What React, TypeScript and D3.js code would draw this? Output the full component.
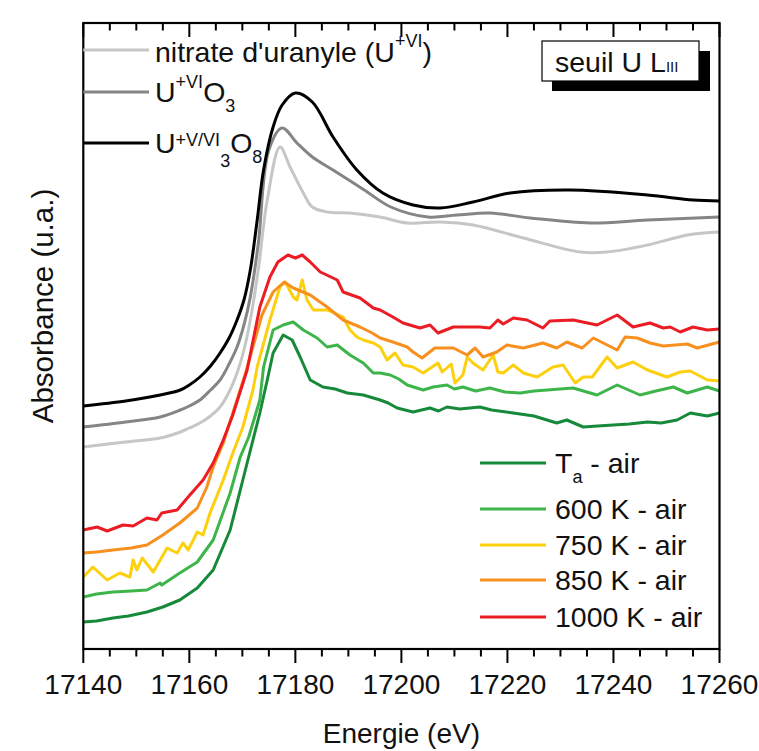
import React from 'react';
import * as d3 from 'd3';

// ---------- data ----------
const xTicks = [17140, 17160, 17180, 17200, 17220, 17240, 17260];
const minorTicks = d3.range(17140, 17261, 5);

const u3o8E = [17140, 17148, 17154.5, 17158.3, 17160, 17162, 17164, 17165.8, 17167.5, 17169, 17170.3, 17171.5, 17172.8, 17174, 17175.8, 17177.5, 17180, 17183.2, 17187.1, 17191.6, 17196.5, 17202.2, 17207.3, 17213.5, 17220.5, 17231.8, 17246.4, 17255, 17260];
const u3o8A = [2.43, 2.48, 2.54, 2.59, 2.64, 2.72, 2.83, 2.96, 3.11, 3.29, 3.49, 3.79, 4.29, 4.79, 5.22, 5.44, 5.56, 5.47, 5.12, 4.79, 4.56, 4.44, 4.41, 4.47, 4.56, 4.59, 4.54, 4.49, 4.48];

const uo3E = [17140, 17148, 17154.5, 17158.3, 17160, 17162, 17164, 17165.8, 17167.5, 17169, 17170.3, 17171.5, 17173, 17175, 17177.5, 17180.3, 17183.2, 17187.1, 17193, 17198, 17205, 17210.5, 17216.7, 17224.3, 17235.6, 17246.4, 17260];
const uo3A = [2.22, 2.27, 2.32, 2.39, 2.43, 2.49, 2.59, 2.69, 2.85, 3.02, 3.24, 3.52, 4.05, 4.99, 5.21, 5.06, 4.92, 4.79, 4.59, 4.42, 4.32, 4.34, 4.36, 4.31, 4.26, 4.29, 4.32];

const nitrateE = [17140, 17148, 17154.5, 17158.3, 17160, 17162, 17164, 17165.8, 17167.5, 17169, 17170.3, 17171.5, 17173, 17174.7, 17177.1, 17179, 17181.5, 17183.2, 17186, 17190.3, 17196, 17201.1, 17207.3, 17213.5, 17223, 17233.7, 17238.8, 17246.4, 17254, 17260];
const nitrateA = [2.02, 2.07, 2.11, 2.17, 2.21, 2.26, 2.33, 2.42, 2.57, 2.76, 2.99, 3.29, 3.79, 4.49, 5.02, 4.82, 4.56, 4.42, 4.37, 4.36, 4.32, 4.26, 4.27, 4.24, 4.11, 3.97, 3.97, 4.04, 4.14, 4.17];

const taE = [17140, 17142.5, 17145.6, 17148.5, 17152, 17155, 17158.2, 17161.5, 17164.5, 17167.7, 17170.9, 17173.3, 17174.7, 17175.8, 17177.7, 17179.4, 17180.9, 17182.8, 17185.2, 17187.5, 17189.8, 17192.8, 17196, 17197.5, 17199.2, 17202.2, 17205.4, 17207, 17208.6, 17211, 17214.8, 17217, 17221.1, 17225, 17229.3, 17231.2, 17234.3, 17237, 17240, 17243, 17246.4, 17249, 17252, 17254.5, 17257.7, 17260];
const taA = [0.27, 0.28, 0.31, 0.33, 0.37, 0.42, 0.49, 0.61, 0.79, 1.19, 1.86, 2.36, 2.69, 2.96, 3.14, 3.09, 2.92, 2.69, 2.62, 2.60, 2.56, 2.54, 2.49, 2.46, 2.41, 2.37, 2.41, 2.38, 2.42, 2.40, 2.42, 2.39, 2.36, 2.33, 2.26, 2.29, 2.22, 2.23, 2.24, 2.25, 2.27, 2.26, 2.29, 2.36, 2.33, 2.36];

const k600E = [17140, 17142.5, 17145.6, 17149, 17152, 17154.5, 17154.8, 17158.2, 17161.5, 17164.5, 17167.7, 17169.6, 17171.2, 17173.3, 17174, 17175.8, 17177.7, 17179.6, 17181.5, 17184.1, 17186, 17187.9, 17190.3, 17192.8, 17194.7, 17196, 17197.9, 17199.5, 17201.1, 17204.1, 17206, 17208.6, 17210, 17211.6, 17214, 17216.7, 17219.5, 17222.4, 17225, 17227.5, 17232.4, 17236.9, 17240.7, 17245, 17248, 17251.3, 17253.9, 17257.7, 17260];
const k600A = [0.52, 0.55, 0.57, 0.58, 0.59, 0.66, 0.64, 0.76, 0.87, 1.09, 1.56, 1.92, 2.12, 2.49, 2.82, 3.19, 3.24, 3.27, 3.19, 3.11, 3.02, 3.04, 2.94, 2.86, 2.76, 2.76, 2.74, 2.70, 2.64, 2.59, 2.62, 2.64, 2.60, 2.62, 2.58, 2.61, 2.57, 2.56, 2.58, 2.59, 2.61, 2.54, 2.64, 2.54, 2.58, 2.62, 2.56, 2.62, 2.58];

const k750E = [17140, 17141.8, 17144.5, 17146.9, 17148.8, 17149.4, 17150.1, 17151.1, 17153.2, 17155.8, 17157.7, 17158.8, 17159.8, 17161.5, 17162.6, 17163.9, 17166.4, 17168.2, 17170.1, 17172, 17172.8, 17175.2, 17177.1, 17178.1, 17179.6, 17180.3, 17181.3, 17182.2, 17183.4, 17186, 17189, 17190.3, 17191.6, 17192.8, 17194.7, 17196, 17197.3, 17198.8, 17200.3, 17202.2, 17204.1, 17206.9, 17207.7, 17209.4, 17210.1, 17211.6, 17212.4, 17213.5, 17215.4, 17217.3, 17218.2, 17219.2, 17221.1, 17223, 17225.6, 17228.6, 17230.5, 17232.8, 17234.3, 17236, 17238.8, 17240.7, 17243.7, 17246.4, 17250.1, 17252.6, 17254.5, 17257.7, 17260];
const k750A = [0.72, 0.82, 0.69, 0.76, 0.72, 0.89, 0.79, 0.91, 0.77, 1.01, 0.96, 1.06, 0.99, 1.17, 1.14, 1.36, 1.69, 1.96, 2.22, 2.59, 2.82, 3.29, 3.62, 3.67, 3.52, 3.49, 3.69, 3.49, 3.39, 3.39, 3.32, 3.19, 3.12, 3.09, 3.06, 3.02, 2.89, 2.96, 2.84, 2.82, 2.76, 2.86, 2.77, 2.85, 2.66, 2.74, 2.92, 2.86, 2.79, 2.94, 2.77, 2.76, 2.84, 2.76, 2.72, 2.82, 2.84, 2.66, 2.72, 2.72, 2.92, 2.81, 2.87, 2.79, 2.72, 2.77, 2.78, 2.69, 2.68];

const k850E = [17140, 17142.5, 17145.6, 17149, 17152, 17155, 17158.2, 17161.5, 17163.3, 17164.5, 17166.4, 17168.2, 17170.5, 17173.7, 17175.8, 17177.9, 17179.6, 17182.8, 17186, 17189, 17192.2, 17194.5, 17196, 17198.4, 17201.1, 17202.2, 17203.9, 17206.3, 17209.8, 17212.4, 17213.9, 17215.4, 17218, 17219.9, 17223, 17226.7, 17229.3, 17231.2, 17234.1, 17236.2, 17240.7, 17242.2, 17244.5, 17246.9, 17249.4, 17253.9, 17255.8, 17260];
const k850A = [0.96, 0.97, 0.99, 1.01, 1.04, 1.14, 1.26, 1.41, 1.62, 1.82, 2.06, 2.36, 2.74, 3.34, 3.57, 3.67, 3.61, 3.54, 3.42, 3.29, 3.22, 3.16, 3.11, 3.07, 3.02, 2.97, 2.91, 3.01, 3.01, 2.94, 3.01, 2.92, 2.97, 3.04, 3.01, 3.06, 3.01, 3.07, 3.01, 3.11, 2.99, 3.12, 3.11, 3.06, 3.03, 3.05, 3.01, 3.07];

const k1000E = [17140, 17142.6, 17144.5, 17147.5, 17149.4, 17152, 17153.9, 17154.8, 17157.7, 17160.1, 17162.6, 17164.5, 17166.4, 17168.2, 17170.9, 17173.3, 17175.2, 17176.7, 17178.6, 17180, 17181.3, 17182.8, 17184.7, 17187.9, 17189, 17192.2, 17194.7, 17196, 17198.4, 17200.3, 17203.5, 17205.4, 17206.9, 17209.8, 17212.4, 17214.8, 17216.7, 17218.2, 17219.2, 17221.1, 17223.7, 17226.7, 17228, 17232.4, 17236.9, 17240.7, 17243.7, 17246.9, 17249.4, 17250.7, 17252.6, 17255, 17257.7, 17260];
const k1000A = [1.19, 1.22, 1.18, 1.24, 1.23, 1.31, 1.29, 1.36, 1.39, 1.54, 1.69, 1.86, 2.09, 2.34, 2.79, 3.42, 3.72, 3.87, 3.94, 3.91, 3.94, 3.87, 3.77, 3.69, 3.57, 3.51, 3.41, 3.39, 3.32, 3.26, 3.21, 3.24, 3.16, 3.22, 3.22, 3.22, 3.21, 3.29, 3.25, 3.31, 3.29, 3.21, 3.28, 3.29, 3.24, 3.34, 3.22, 3.26, 3.21, 3.22, 3.17, 3.22, 3.19, 3.20];

const refNames = ["nitrate d'uranyle", 'UO3', 'U3O8'];
const sampleNames = ['Ta - air', '600 K - air', '750 K - air', '850 K - air', '1000 K - air'];

// ---------- layout ----------
const W = 759;
const H = 751;
const L = 83.3, R = 719.5, T = 23, B = 649;
const FONT = "'Liberation Sans', Arial, Helvetica, sans-serif";

export default function App() {
  const x = d3.scaleLinear().domain([17140, 17260]).range([L, R]);
  const y = d3.scaleLinear().domain([0, 6.26]).range([B, T]);

  const smooth = d3.line<[number, number]>().x(d => x(d[0])).y(d => y(d[1])).curve(d3.curveCatmullRom.alpha(0.5));
  const jagged = d3.line<[number, number]>().x(d => x(d[0])).y(d => y(d[1]));
  const zip = (E: number[], A: number[]) => E.map((e, i) => [e, A[i]] as [number, number]);

  const refs = [
    { name: refNames[0], E: nitrateE, A: nitrateA, color: '#c6c6c6' },
    { name: refNames[1], E: uo3E, A: uo3A, color: '#858585' },
    { name: refNames[2], E: u3o8E, A: u3o8A, color: '#000000' },
  ];
  const samples = [
    { name: sampleNames[0], E: taE, A: taA, color: '#17893a' },
    { name: sampleNames[1], E: k600E, A: k600A, color: '#3db54a' },
    { name: sampleNames[2], E: k750E, A: k750A, color: '#fcd00e' },
    { name: sampleNames[3], E: k850E, A: k850A, color: '#f7901e' },
    { name: sampleNames[4], E: k1000E, A: k1000A, color: '#ec1c24' },
  ];

  const legendRowsBottom = [463, 509, 545, 580, 617];
  const FS = 28.5;

  return (
    <svg width={W} height={H} style={{ position: 'absolute', left: 0, top: 0, background: '#fff' }} fontFamily={FONT}>
      <defs>
        <clipPath id="plot"><rect x={L} y={T} width={R - L} height={B - T} /></clipPath>
      </defs>
      <rect x={0} y={0} width={W} height={H} fill="#fff" />
      <g clipPath="url(#plot)" fill="none" strokeLinejoin="round" strokeLinecap="round">
        {samples.map(s => (
          <path key={s.name} d={jagged(zip(s.E, s.A)) || ''} stroke={s.color} strokeWidth={3} />
        ))}
        {refs.map(s => (
          <path key={s.name} d={smooth(zip(s.E, s.A)) || ''} stroke={s.color} strokeWidth={3} />
        ))}
      </g>

      {/* frame */}
      <rect x={L} y={T} width={R - L} height={B - T} fill="none" stroke="#000" strokeWidth={2.2} />

      {/* ticks */}
      {minorTicks.map(t => {
        const major = xTicks.includes(t);
        const len = major ? 14 : 7.5;
        return (
          <g key={t} stroke="#000" strokeWidth={2}>
            <line x1={x(t)} x2={x(t)} y1={B} y2={B + len} />
            <line x1={x(t)} x2={x(t)} y1={T} y2={T + len} />
          </g>
        );
      })}
      {xTicks.map(t => (
        <text key={t} x={x(t)} y={694} fontSize={28} textAnchor="middle" fill="#111">{t}</text>
      ))}
      <text x={(L + R) / 2} y={743} fontSize={28} textAnchor="middle" fill="#111">Energie (eV)</text>
      <text transform={`translate(53,306) rotate(-90)`} fontSize={29.5} textAnchor="middle" fill="#111">Absorbance (u.a.)</text>

      {/* top-left legend */}
      <line x1={L} x2={149} y1={50} y2={50} stroke={refs[0].color} strokeWidth={3} />
      <line x1={L} x2={149} y1={92} y2={92} stroke={refs[1].color} strokeWidth={3} />
      <line x1={L} x2={149} y1={143} y2={143} stroke={refs[2].color} strokeWidth={3} />
      <text x={155} y={62} fontSize={FS} fill="#111">
        nitrate d'uranyle (U<tspan fontSize={18} dy={-15}>+VI</tspan><tspan dy={15}>)</tspan>
      </text>
      <text x={155} y={102} fontSize={FS} fill="#111">
        U<tspan fontSize={18} dy={-14}>+VI</tspan><tspan dy={14}>O</tspan><tspan fontSize={18} dy={10}>3</tspan>
      </text>
      <text x={155} y={153} fontSize={FS} fill="#111">
        U<tspan fontSize={18} dy={-7}>+V/VI</tspan><tspan fontSize={18} dy={21}>3</tspan><tspan dy={-14}>O</tspan><tspan fontSize={18} dy={10}>8</tspan>
      </text>

      {/* seuil box */}
      <rect x={552} y={51} width={158} height={40} fill="#000" />
      <rect x={542} y={41} width={157} height={40} fill="#fff" stroke="#000" strokeWidth={1.2} />
      <text x={555} y={72} fontSize={FS} fill="#111">
        seuil U L<tspan fontSize={15}>III</tspan>
      </text>

      {/* bottom-right legend */}
      {samples.map((s, i) => (
        <g key={s.name}>
          <line x1={480} x2={546} y1={legendRowsBottom[i]} y2={legendRowsBottom[i]} stroke={s.color} strokeWidth={3} />
          {i === 0 ? (
            <text x={555} y={legendRowsBottom[i] + 10} fontSize={FS} fill="#111">
              T<tspan fontSize={18} dy={10}>a</tspan><tspan dy={-10}> - air</tspan>
            </text>
          ) : (
            <text x={555} y={legendRowsBottom[i] + 10} fontSize={FS} fill="#111">{s.name}</text>
          )}
        </g>
      ))}
    </svg>
  );
}
